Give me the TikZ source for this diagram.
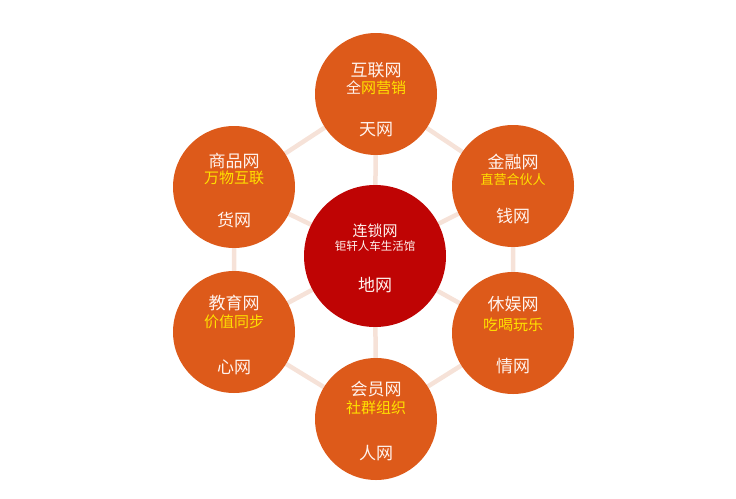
\documentclass[tikz,border=0pt]{standalone}
\usepackage{fontspec}
\newfontfamily\cjk{Noto Sans CJK SC}
\definecolor{orangec}{HTML}{DD5A1A}
\definecolor{redc}{HTML}{BF0404}
\definecolor{linkc}{HTML}{F6E2D8}
\definecolor{yel}{HTML}{FFE100}
\definecolor{wt}{HTML}{FFF3EE}
\tikzset{
  outer/.style={circle,fill=orangec,minimum size=122pt,inner sep=0pt},
  center/.style={circle,fill=redc,minimum size=142pt,inner sep=0pt},
  link/.style={draw=linkc,line width=4.5pt},
  ttl/.style={text=wt,font=\cjk\fontsize{17}{17}\selectfont,inner sep=0pt},
  sub/.style={text=yel,font=\cjk\fontsize{15}{15}\selectfont,inner sep=0pt},
  btm/.style={text=wt,font=\cjk\fontsize{17}{17}\selectfont,inner sep=0pt}
}
\begin{document}
\begin{tikzpicture}[x=1pt,y=-1pt]
\useasboundingbox (0,0) rectangle (736,498);
\coordinate (pc) at (375,256);
\coordinate (p1) at (376,94);
\coordinate (p2) at (513,186);
\coordinate (p3) at (513,333);
\coordinate (p4) at (376,419);
\coordinate (p5) at (234,332);
\coordinate (p6) at (234,187);
% connectors
\draw[link] (p1) -- (p2) -- (p3) -- (p4) -- (p5) -- (p6) -- cycle;
\foreach \i in {1,...,6} \draw[link] (pc) -- (p\i);
% circles
\node[center] (c) at (pc) {};
\node[outer] (n1) at (p1) {};
\node[outer] (n2) at (p2) {};
\node[outer] (n3) at (p3) {};
\node[outer] (n4) at (p4) {};
\node[outer] (n5) at (p5) {};
\node[outer] (n6) at (p6) {};
% center text
\node[text=wt,font=\cjk\fontsize{15}{15}\selectfont,inner sep=0pt] (ct) at ([yshift=25pt]c.center) {连锁网};
\node[text=wt,font=\cjk\fontsize{11.5}{11.5}\selectfont,inner sep=0pt] (cs) at ([yshift=10pt]c.center) {钜轩人车生活馆};
\node[btm] (cb) at ([yshift=-29pt]c.center) {地网};
% top
\node[ttl] (t1) at ([yshift=24pt]n1.center) {互联网};
\node[sub] (s1) at ([yshift=6pt]n1.center) {\textcolor{wt}{全}网营销};
\node[btm] (b1) at ([yshift=-36pt]n1.center) {天网};
% right upper
\node[ttl] (t2) at ([yshift=24pt]n2.center) {金融网};
\node[sub,font=\cjk\fontsize{13}{13}\selectfont] (s2) at ([yshift=6pt]n2.center) {直营合伙人};
\node[btm] (b2) at ([yshift=-30pt]n2.center) {钱网};
% right lower
\node[ttl] (t3) at ([yshift=29pt]n3.center) {休娱网};
\node[sub] (s3) at ([yshift=8pt]n3.center) {吃喝玩乐};
\node[btm] (b3) at ([yshift=-33pt]n3.center) {情网};
% bottom
\node[ttl] (t4) at ([yshift=30pt]n4.center) {会员网};
\node[sub] (s4) at ([yshift=11pt]n4.center) {社群组织};
\node[btm] (b4) at ([yshift=-34pt]n4.center) {人网};
% left lower
\node[ttl] (t5) at ([yshift=29pt]n5.center) {教育网};
\node[sub] (s5) at ([yshift=10pt]n5.center) {价值同步};
\node[btm] (b5) at ([yshift=-35pt]n5.center) {心网};
% left upper
\node[ttl] (t6) at ([yshift=26pt]n6.center) {商品网};
\node[sub] (s6) at ([yshift=9pt]n6.center) {万物互联};
\node[btm] (b6) at ([yshift=-33pt]n6.center) {货网};
\end{tikzpicture}
\end{document}
